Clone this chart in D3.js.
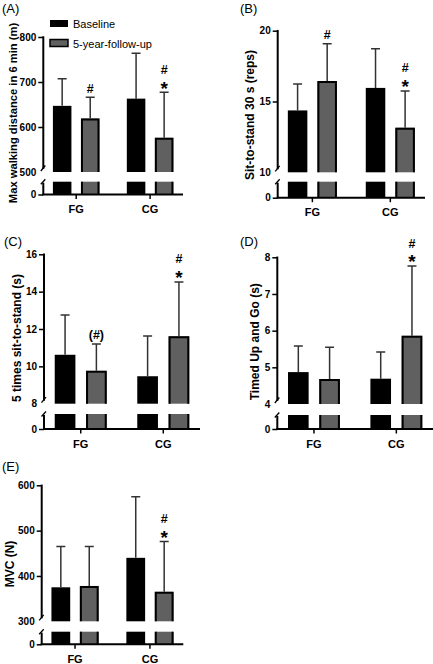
<!DOCTYPE html>
<html><head><meta charset="utf-8">
<script src="https://cdn.jsdelivr.net/npm/d3@7"></script>
<style>body{margin:0;background:#fff}svg{display:block}</style>
</head><body>
<script>
// ---------- data ----------
const groups = ["FG", "CG"];
const seriesNames = ["Baseline", "5-year-follow-up"];
const panelLabels = ["(A)", "(B)", "(C)", "(D)", "(E)"];
const yTitles = ["Max walking distance in 6 min (m)", "Sit-to-stand 30 s (reps)",
                 "5 times sit-to-stand (s)", "Timed Up and Go (s)", "MVC (N)"];

// A: 6-min walk
const walkBase = [647, 663], walkBaseSD = [60, 101];
const walkFollow = [619, 576], walkFollowSD = [47, 101];
const walkTicks = [500, 600, 700, 800];
const walkMarks = [["#"], ["#", "*"]];   // listed top to bottom
// B: 30 s sit-to-stand
const stsBase = [14.37, 15.96], stsBaseSD = [1.86, 2.77];
const stsFollow = [16.44, 13.15], stsFollowSD = [2.64, 2.6];
const stsTicks = [10, 15, 20];
const stsMarks = [["#"], ["#", "*"]];
// C: 5 times sit-to-stand
const fiveBase = [10.62, 9.47], fiveBaseSD = [2.13, 2.16];
const fiveFollow = [9.76, 11.61], fiveFollowSD = [1.44, 2.91];
const fiveTicks = [8, 10, 12, 14, 16];
const fiveMarks = [["(#)"], ["#", "*"]];
// D: Timed Up and Go
const tugBase = [4.87, 4.69], tugBaseSD = [0.71, 0.73];
const tugFollow = [4.68, 5.86], tugFollowSD = [0.87, 1.9];
const tugTicks = [4, 5, 6, 7, 8];
const tugMarks = [[], ["#", "*"]];
// E: MVC
const mvcBase = [375, 440], mvcBaseSD = [90, 135];
const mvcFollow = [378, 365], mvcFollowSD = [87, 111];
const mvcTicks = [300, 400, 500, 600];
const mvcMarks = [[], ["#", "*"]];

const panels = [
  {base: walkBase, baseSD: walkBaseSD, follow: walkFollow, followSD: walkFollowSD, ticks: walkTicks, marks: walkMarks},
  {base: stsBase, baseSD: stsBaseSD, follow: stsFollow, followSD: stsFollowSD, ticks: stsTicks, marks: stsMarks},
  {base: fiveBase, baseSD: fiveBaseSD, follow: fiveFollow, followSD: fiveFollowSD, ticks: fiveTicks, marks: fiveMarks},
  {base: tugBase, baseSD: tugBaseSD, follow: tugFollow, followSD: tugFollowSD, ticks: tugTicks, marks: tugMarks},
  {base: mvcBase, baseSD: mvcBaseSD, follow: mvcFollow, followSD: mvcFollowSD, ticks: mvcTicks, marks: mvcMarks}
];

// ---------- layout ----------
const layouts = [
  {x0: 43.3, x1: 183, yTop: 37, yLo: 172, lowTop: 181.7, baseY: 194.5, tx: 13, ty: 113, tfs: 11.2, lx: 2, ly: 13},
  {x0: 277.7, x1: 425, yTop: 30.7, yLo: 172.3, lowTop: 181.7, baseY: 197.7, tx: 249.5, ty: 115, tfs: 12, lx: 240, ly: 13},
  {x0: 44, x1: 200, yTop: 254.3, yLo: 403.7, lowTop: 414, baseY: 429, tx: 16.7, ty: 338, tfs: 12, lx: 4, ly: 246},
  {x0: 277.3, x1: 433, yTop: 257.3, yLo: 404, lowTop: 415, baseY: 429, tx: 255, ty: 341.7, tfs: 12, lx: 240, ly: 246},
  {x0: 41.7, x1: 183.3, yTop: 485.3, yLo: 621.3, lowTop: 631.7, baseY: 644.3, tx: 10, ty: 564, tfs: 12, lx: 2, ly: 471}
];

const FONT = "'Liberation Sans', Arial, Helvetica, sans-serif";
const BLACK = "#000";
const GRAY = "#606060";
const ERR = "#333";

const svg = d3.select("body").append("svg").attr("width", 433).attr("height", 664)
  .style("font-family", FONT);

function drawPanel(p, L, idx) {
  const g = svg.append("g");
  const x = d3.scaleBand().domain(groups).range([L.x0, L.x1]).paddingInner(0.37).paddingOuter(0.13);
  const xs = d3.scaleBand().domain(seriesNames).range([0, x.bandwidth()]).paddingInner(0.34);
  const lo = p.ticks[0], hi = p.ticks[p.ticks.length - 1];
  const y = d3.scaleLinear().domain([lo, hi]).range([L.yLo, L.yTop]);
  const yLow = d3.scaleLinear().domain([0, lo]).range([L.baseY, L.lowTop]);

  const rows = [];
  groups.forEach((gname, i) => {
    rows.push({g: gname, s: seriesNames[0], v: p.base[i], sd: p.baseSD[i], marks: []});
    rows.push({g: gname, s: seriesNames[1], v: p.follow[i], sd: p.followSD[i], marks: p.marks[i]});
  });
  rows.forEach(r => {
    const bx = x(r.g) + xs(r.s), bw = xs.bandwidth();
    const isF = r.s === seriesNames[1];
    g.append("rect").attr("x", bx).attr("y", y(r.v)).attr("width", bw).attr("height", y(lo) - y(r.v))
      .attr("fill", isF ? GRAY : BLACK);
    g.append("rect").attr("x", bx).attr("y", yLow(lo)).attr("width", bw).attr("height", yLow(0) - yLow(lo))
      .attr("fill", isF ? GRAY : BLACK);
    if (isF) {
      const sw = 2;
      g.append("path").attr("d", `M${bx + 1},${y(lo)}V${y(r.v) + 1}H${bx + bw - 1}V${y(lo)}`)
        .attr("fill", "none").attr("stroke", BLACK).attr("stroke-width", sw);
      g.append("path").attr("d", `M${bx + 1},${yLow(lo)}V${yLow(0)}M${bx + bw - 1},${yLow(lo)}V${yLow(0)}`)
        .attr("fill", "none").attr("stroke", BLACK).attr("stroke-width", sw);
    }
    const cx = bx + bw / 2, top = y(r.v + r.sd);
    g.append("path").attr("d", `M${cx},${y(r.v)}V${top}M${cx - 4.5},${top}H${cx + 4.5}`)
      .attr("fill", "none").attr("stroke", ERR).attr("stroke-width", 1.5);
    // significance marks (listed top to bottom; stack from the error cap upward)
    const n = r.marks.length;
    r.marks.forEach((m, j) => {
      const k = n - 1 - j;
      const c = top - 9 - k * 14;
      if (m === "*") {
        g.append("text").attr("x", cx).attr("y", c + 11.2).attr("text-anchor", "middle")
          .attr("font-size", 19).attr("font-weight", "bold").text(m);
      } else {
        g.append("text").attr("x", cx).attr("y", c + 4.5).attr("text-anchor", "middle")
          .attr("font-size", 12.5).attr("font-weight", "bold").text(m);
      }
    });
  });

  // y axis upper
  const ax = g.append("g").attr("transform", `translate(${L.x0},0)`)
    .call(d3.axisLeft(y).tickValues(p.ticks).tickSize(5).tickSizeOuter(0).tickPadding(2).tickFormat(d3.format("d")));
  ax.select(".domain").remove();
  ax.selectAll(".tick line").attr("stroke-width", 1.5).filter(d => d === lo).remove();
  ax.selectAll(".tick text").attr("font-size", 10).attr("font-weight", "bold").attr("font-family", FONT);
  g.append("line").attr("x1", L.x0).attr("x2", L.x0).attr("y1", y(hi) - 0.75).attr("y2", y(lo) - 3)
    .attr("stroke", BLACK).attr("stroke-width", 2);
  // y axis lower
  const ax2 = g.append("g").attr("transform", `translate(${L.x0},0)`)
    .call(d3.axisLeft(yLow).tickValues([0]).tickSize(5).tickSizeOuter(0).tickPadding(2).tickFormat(d3.format("d")));
  ax2.select(".domain").remove();
  ax2.selectAll(".tick line").attr("stroke-width", 1.5);
  ax2.selectAll(".tick text").attr("font-size", 10).attr("font-weight", "bold").attr("font-family", FONT);
  g.append("line").attr("x1", L.x0).attr("x2", L.x0).attr("y1", yLow(lo) + 1).attr("y2", yLow(0))
    .attr("stroke", BLACK).attr("stroke-width", 2);
  // break slashes
  g.append("line").attr("x1", L.x0 - 2.5).attr("y1", y(lo) - 1).attr("x2", L.x0 + 2).attr("y2", y(lo) - 6.5)
    .attr("stroke", BLACK).attr("stroke-width", 1.3);
  g.append("line").attr("x1", L.x0 - 2.5).attr("y1", yLow(lo) + 2.5).attr("x2", L.x0 + 2).attr("y2", yLow(lo) - 2.5)
    .attr("stroke", BLACK).attr("stroke-width", 1.3);

  // x axis
  g.append("line").attr("x1", L.x0 - 1).attr("x2", L.x1).attr("y1", L.baseY).attr("y2", L.baseY)
    .attr("stroke", BLACK).attr("stroke-width", 2);
  groups.forEach(gname => {
    const cx = x(gname) + x.bandwidth() / 2;
    g.append("line").attr("x1", cx).attr("x2", cx).attr("y1", L.baseY).attr("y2", L.baseY + 4.5)
      .attr("stroke", BLACK).attr("stroke-width", 1.5);
    g.append("text").attr("x", cx).attr("y", L.baseY + 18.5).attr("text-anchor", "middle")
      .attr("font-size", 11).attr("font-weight", "bold").text(gname);
  });

  // y title
  g.append("text").attr("transform", `translate(${L.tx},${L.ty}) rotate(-90)`)
    .attr("text-anchor", "middle").attr("dy", "0.35em")
    .attr("font-size", L.tfs).attr("font-weight", "bold").text(yTitles[idx]);
  // panel label
  g.append("text").attr("x", L.lx).attr("y", L.ly).attr("font-size", 13).text(panelLabels[idx]);
}

panels.forEach((p, i) => drawPanel(p, layouts[i], i));

// legend (panel A)
const leg = svg.append("g");
seriesNames.forEach((s, i) => {
  const yy = 20 + i * 19.5;
  leg.append("rect").attr("x", 50).attr("y", yy).attr("width", 18).attr("height", 7)
    .attr("fill", i === 0 ? BLACK : GRAY).attr("stroke", BLACK).attr("stroke-width", i === 0 ? 0 : 1.5);
  leg.append("text").attr("x", 73).attr("y", yy + 8).attr("font-size", 11).text(s);
});
</script>
</body></html>
